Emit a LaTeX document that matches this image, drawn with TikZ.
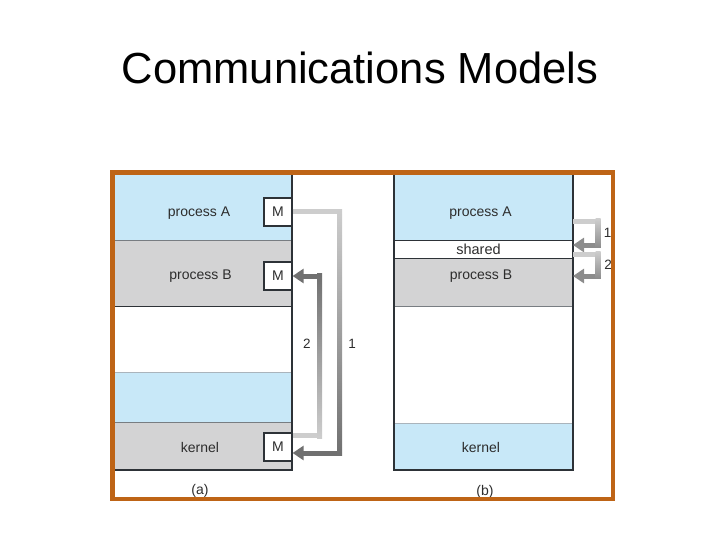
\documentclass[tikz,border=0pt]{standalone}
\usepackage{fontspec}
\setmainfont{Liberation Sans}
\usetikzlibrary{arrows.meta}
\definecolor{frameor}{RGB}{190,100,22}
\definecolor{pblue}{RGB}{200,232,248}
\definecolor{pgray}{RGB}{211,211,212}
\definecolor{edgec}{RGB}{45,50,55}
\definecolor{sepc}{RGB}{120,125,130}
\definecolor{seplight}{RGB}{170,180,188}
\definecolor{txtc}{RGB}{45,45,45}
\definecolor{arlight}{RGB}{205,205,205}
\definecolor{ardark}{RGB}{112,112,112}
\definecolor{armid}{RGB}{140,140,140}
\tikzset{
  lbl/.style={font=\fontsize{14}{16}\selectfont, text=txtc, inner sep=0pt},
  numlbl/.style={font=\fontsize{13.5}{15}\selectfont, text=txtc, inner sep=0pt},
  mbox/.style={draw=edgec, line width=1.2pt, fill=white, minimum width=28pt, minimum height=28pt, inner sep=0pt, font=\fontsize{14}{16}\selectfont, text=txtc},
  pipe/.style={line width=5pt, line join=miter},
  tip/.style={-{Triangle[length=11pt,width=14pt]}},
}
\begin{document}
\begin{tikzpicture}[x=1pt,y=-1pt]
\useasboundingbox (0,0) rectangle (720,540);
\node[font=\fontsize{43.5}{50}\selectfont, anchor=base, inner sep=0pt] (title) at (360,83.3) {Communications Models};

% ---------- panel (a) ----------
\fill[pblue] (113,174) rectangle (292,240);
\fill[pgray] (113,240) rectangle (292,306);
\fill[pblue] (113,372) rectangle (292,422);
\fill[pgray] (113,422) rectangle (292,470);
\draw[sepc, line width=0.9pt] (113,240) -- (292,240);
\draw[edgec, line width=1pt] (113,306) -- (292,306);
\draw[seplight, line width=0.8pt] (113,372) -- (292,372);
\draw[sepc, line width=0.8pt] (113,422) -- (292,422);
\draw[edgec, line width=1.4pt] (292,174) -- (292,470) -- (113,470);

\node[lbl] (aAt) at (199,213.5) {process A};
\node[lbl] (aBt) at (200.5,276.5) {process B};
\node[lbl] (aKt) at (200,447) {kernel};

\node[mbox] (aMA) at (278,212) {M};
\node[mbox] (aMB) at (278,276) {M};
\node[mbox] (aMK) at (278,447) {M};

% arrow 1: process A -> kernel
\coordinate (a1c) at (339.5,330);
\draw[pipe, ardark, tip] (aMA.east) -| (a1c) |- ([yshift=-6pt]aMK.east);
\draw[pipe, arlight] (aMA.east) -- (342,212);
\shade[top color=arlight, bottom color=ardark] (337,209.5) rectangle (342,455.5);

% arrow 2: kernel -> process B
\coordinate (a2c) at (319.5,350);
\draw[pipe, ardark, tip] ([yshift=11.5pt]aMK.east) -| (a2c) |- (aMB.east);
\draw[pipe, arlight] ([yshift=11.5pt]aMK.east) -- (322,435.5);
\shade[top color=ardark, bottom color=arlight] (317,273.5) rectangle (322,438);

\node[numlbl] (l2a) at (307,344) {2};
\node[numlbl] (l1a) at (352,344) {1};

% ---------- panel (b) ----------
\fill[pblue] (394,174) rectangle (573,240);
\fill[white] (394,240) rectangle (573,258);
\fill[pgray] (394,258) rectangle (573,306);
\fill[pblue] (394,423) rectangle (573,470);
\draw[edgec, line width=1pt] (394,240) -- (573,240);
\draw[edgec, line width=1pt] (394,258) -- (573,258);
\draw[sepc, line width=0.8pt] (394,306) -- (573,306);
\draw[seplight, line width=0.8pt] (394,423) -- (573,423);
\draw[edgec, line width=1.4pt] (394,174) -- (394,470) -- (573,470) -- (573,174);

\node[lbl] (bAt) at (480.5,213.5) {process A};
\node[lbl, font=\fontsize{14.5}{16}\selectfont] (bSt) at (478.5,249.5) {shared};
\node[lbl] (bBt) at (481,276.5) {process B};
\node[lbl] (bKt) at (481,447) {kernel};

\coordinate (bAe) at (573,221.5);
\coordinate (bS1) at (573,245);
\coordinate (bS2) at (573,254);
\coordinate (bBe) at (573,276);
\coordinate (b1c) at (598,233);
\coordinate (b2c) at (598,265);

\draw[pipe, armid, tip] (bAe) -| (b1c) |- (bS1);
\draw[pipe, arlight] (bAe) -- (600.5,221.5);
\shade[top color=arlight, bottom color=armid] (595.5,219) rectangle (600.5,247.5);

\draw[pipe, armid, tip] (bS2) -| (b2c) |- (bBe);
\draw[pipe, arlight] (bS2) -- (600.5,254);
\shade[top color=arlight, bottom color=armid] (595.5,251.5) rectangle (600.5,278.5);

\node[numlbl] (l1b) at (607.5,233) {1};
\node[numlbl] (l2b) at (608,264.5) {2};

% captions
\node[lbl] (capa) at (200,491) {(a)};
\node[lbl] (capb) at (485,491.5) {(b)};

% frame
\draw[frameor, line width=4.5pt] (112.5,172.5) rectangle (612.8,499.2);
\end{tikzpicture}
\end{document}
